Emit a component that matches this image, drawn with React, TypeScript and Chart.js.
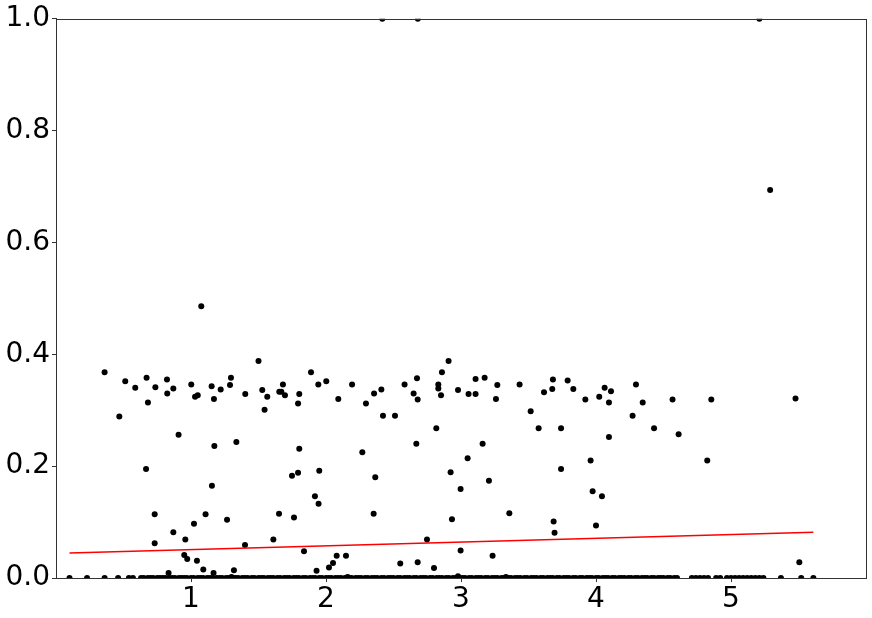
import React, { useEffect, useRef } from "react";
import { Chart, registerables } from "chart.js";

Chart.register(...registerables);

// Non-zero scatter points (x, y)
const scatterX = [
  0.36, 0.469, 0.513, 0.587, 0.667, 0.671, 0.681, 0.731, 0.731, 0.736, 0.822, 0.824, 0.834, 0.869, 0.869,
  0.908, 0.95, 0.958, 0.972, 1.002, 1.022, 1.03, 1.044, 1.05, 1.076, 1.091, 1.108, 1.153, 1.155, 1.167,
  1.17, 1.173, 1.22, 1.267, 1.289, 1.296, 1.3, 1.318, 1.336, 1.4, 1.402, 1.5, 1.528, 1.545, 1.565,
  1.61, 1.652, 1.654, 1.669, 1.681, 1.696, 1.748, 1.763, 1.793, 1.793, 1.802, 1.802, 1.837, 1.889, 1.918,
  1.93, 1.943, 1.945, 1.95, 2.002, 2.022, 2.052, 2.079, 2.091, 2.148, 2.16, 2.193, 2.269, 2.296, 2.353,
  2.356, 2.365, 2.41, 2.417, 2.422, 2.511, 2.55, 2.582, 2.649, 2.669, 2.674, 2.679, 2.679, 2.68, 2.748,
  2.8, 2.817, 2.832, 2.832, 2.852, 2.859, 2.908, 2.923, 2.933, 2.978, 2.978, 2.997, 2.997, 3.049, 3.056,
  3.108, 3.108, 3.16, 3.175, 3.207, 3.234, 3.259, 3.269, 3.333, 3.358, 3.434, 3.516, 3.575, 3.615, 3.676,
  3.681, 3.686, 3.693, 3.741, 3.741, 3.79, 3.832, 3.921, 3.96, 3.975, 4.0, 4.024, 4.044, 4.064, 4.096,
  4.096, 4.111, 4.271, 4.296, 4.346, 4.43, 4.567, 4.612, 4.824, 4.854, 5.21, 5.29, 5.478, 5.506,
];
const scatterY = [
  0.368, 0.289, 0.352, 0.34, 0.195, 0.358, 0.314, 0.114, 0.062, 0.341, 0.355, 0.33, 0.009, 0.339, 0.082,
  0.256, 0.041, 0.069, 0.034, 0.346, 0.097, 0.324, 0.031, 0.327, 0.486, 0.015, 0.114, 0.343, 0.165, 0.009,
  0.32, 0.236, 0.337, 0.104, 0.345, 0.358, 0.002, 0.014, 0.243, 0.059, 0.329, 0.388, 0.336, 0.301, 0.324,
  0.069, 0.115, 0.333, 0.333, 0.346, 0.327, 0.183, 0.108, 0.312, 0.188, 0.329, 0.231, 0.048, 0.368, 0.146,
  0.013, 0.346, 0.133, 0.192, 0.352, 0.019, 0.027, 0.04, 0.32, 0.04, 0.002, 0.346, 0.225, 0.312, 0.115,
  0.33, 0.18, 0.337, 1.0, 0.29, 0.29, 0.026, 0.346, 0.33, 0.24, 0.357, 0.319, 0.028, 1.0, 0.069,
  0.018, 0.268, 0.346, 0.339, 0.327, 0.368, 0.388, 0.189, 0.105, 0.336, 0.003, 0.159, 0.049, 0.214, 0.329,
  0.329, 0.356, 0.24, 0.358, 0.174, 0.04, 0.32, 0.345, 0.002, 0.116, 0.346, 0.298, 0.268, 0.332, 0.338,
  0.355, 0.101, 0.081, 0.268, 0.195, 0.353, 0.338, 0.319, 0.21, 0.155, 0.094, 0.324, 0.146, 0.34, 0.314,
  0.252, 0.334, 0.29, 0.346, 0.314, 0.268, 0.319, 0.257, 0.21, 0.319, 1.0, 0.694, 0.321, 0.028,
];

// Points lying at y = 0
const zeroX = [
  0.1, 0.23, 0.36, 0.46, 0.54, 0.57, 0.63, 0.65, 0.68, 0.7, 0.72, 0.75, 0.77, 0.79, 0.81, 0.84, 0.86, 0.88,
  0.91, 0.93, 0.95, 0.97, 1.0, 1.02, 1.05, 1.07, 1.09, 1.12, 1.14, 1.16, 1.19, 1.21, 1.23, 1.26, 1.28, 1.31,
  1.33, 1.35, 1.38, 1.4, 1.42, 1.45, 1.47, 1.5, 1.52, 1.54, 1.57, 1.59, 1.61, 1.64, 1.66, 1.69, 1.71, 1.73,
  1.76, 1.78, 1.8, 1.83, 1.85, 1.88, 1.9, 1.92, 1.95, 1.97, 2.0, 2.02, 2.04, 2.07, 2.09, 2.11, 2.14, 2.17,
  2.19, 2.22, 2.24, 2.26, 2.29, 2.31, 2.34, 2.36, 2.38, 2.41, 2.43, 2.46, 2.48, 2.5, 2.53, 2.55, 2.58, 2.6,
  2.62, 2.65, 2.67, 2.7, 2.72, 2.74, 2.77, 2.79, 2.82, 2.84, 2.86, 2.89, 2.91, 2.94, 2.96, 2.99, 3.01, 3.03,
  3.06, 3.08, 3.11, 3.13, 3.15, 3.18, 3.2, 3.23, 3.25, 3.27, 3.3, 3.32, 3.35, 3.37, 3.4, 3.42, 3.44, 3.47,
  3.49, 3.52, 3.54, 3.56, 3.59, 3.61, 3.64, 3.66, 3.68, 3.71, 3.73, 3.76, 3.78, 3.8, 3.83, 3.85, 3.88, 3.9,
  3.93, 3.95, 3.97, 4.0, 4.02, 4.05, 4.07, 4.09, 4.12, 4.14, 4.17, 4.19, 4.21, 4.24, 4.26, 4.29, 4.31, 4.34,
  4.36, 4.38, 4.41, 4.43, 4.46, 4.48, 4.5, 4.53, 4.55, 4.58, 4.6, 4.71, 4.74, 4.77, 4.8, 4.83, 4.89, 4.92,
  4.97, 5.0, 5.03, 5.06, 5.09, 5.12, 5.15, 5.18, 5.21, 5.24, 5.37, 5.52, 5.61,
];

// Fitted trend line endpoints
const fitX = [0.1, 5.61];
const fitY = [0.0445, 0.082];

const xTicks = [1, 2, 3, 4, 5];

const FONT = { family: "'DejaVu Sans', sans-serif", size: 28 };
const AXIS_COLOR = "#333333";

const framePlugin = {
  id: "frame",
  afterDatasetsDraw(chart: any) {
    const { ctx, chartArea } = chart;
    ctx.save();
    ctx.strokeStyle = AXIS_COLOR;
    ctx.lineWidth = 1;
    ctx.strokeRect(
      Math.round(chartArea.left) + 0.5,
      Math.round(chartArea.top) + 0.5,
      Math.round(chartArea.right - chartArea.left),
      Math.round(chartArea.bottom - chartArea.top)
    );
    ctx.restore();
  },
};

export default function App() {
  const ref = useRef<HTMLCanvasElement | null>(null);

  useEffect(() => {
    if (!ref.current) return;
    const scatterData = scatterX.map((x, i) => ({ x, y: scatterY[i] }));
    const zeroData = zeroX.map((x) => ({ x, y: 0 }));
    const fitData = fitX.map((x, i) => ({ x, y: fitY[i] }));

    const chart = new Chart(ref.current, {
      type: "scatter",
      data: {
        datasets: [
          {
            type: "line",
            data: fitData,
            borderColor: "#ff0000",
            borderWidth: 1.5,
            pointRadius: 0,
            showLine: true,
            fill: false,
            clip: 0,
          } as any,
          {
            data: scatterData,
            backgroundColor: "#000000",
            borderColor: "#000000",
            pointRadius: 3,
            pointBorderWidth: 0,
            clip: 0,
          } as any,
          {
            data: zeroData,
            backgroundColor: "#000000",
            borderColor: "#000000",
            pointRadius: 3,
            pointBorderWidth: 0,
            clip: 0,
          } as any,
        ],
      },
      options: {
        responsive: false,
        animation: false,
        events: [],
        layout: {
          autoPadding: false,
          padding: { top: 16, right: 6, left: 0, bottom: 0 },
        } as any,
        plugins: {
          legend: { display: false },
          tooltip: { enabled: false },
        },
        scales: {
          x: {
            type: "linear",
            min: 0,
            max: 6,
            afterBuildTicks: (scale: any) => {
              scale.ticks = xTicks.map((v) => ({ value: v }));
            },
            afterFit: (scale: any) => {
              scale.height = 40;
            },
            ticks: {
              font: FONT,
              color: "#000000",
              padding: 1,
              maxRotation: 0,
              autoSkip: false,
            },
            grid: {
              display: true,
              drawOnChartArea: false,
              drawTicks: true,
              tickLength: 4,
              color: AXIS_COLOR,
            },
            border: { display: true, color: AXIS_COLOR },
          },
          y: {
            type: "linear",
            min: 0,
            max: 1,
            afterFit: (scale: any) => {
              scale.width = 56;
            },
            ticks: {
              stepSize: 0.2,
              font: FONT,
              color: "#000000",
              padding: 2,
              callback: (v: any) => Number(v).toFixed(1),
            },
            grid: {
              display: true,
              drawOnChartArea: false,
              drawTicks: true,
              tickLength: 4,
              color: AXIS_COLOR,
            },
            border: { display: true, color: AXIS_COLOR },
          },
        },
      },
      plugins: [framePlugin],
    });
    return () => chart.destroy();
  }, []);

  return (
    <div style={{ position: "fixed", left: 0, top: 0, width: 872, height: 618, background: "#ffffff" }}>
      <canvas ref={ref} width={872} height={618} style={{ width: 872, height: 618, display: "block" }} />
    </div>
  );
}
